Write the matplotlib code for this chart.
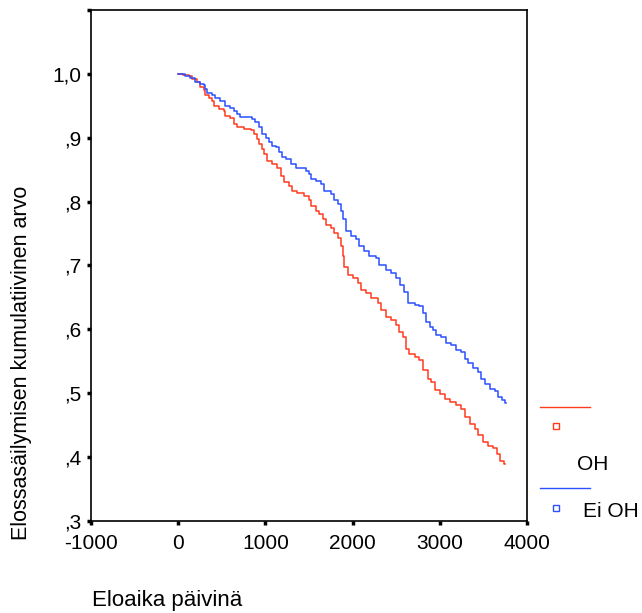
#!/usr/bin/env python3

import matplotlib
matplotlib.use("Agg")
import matplotlib.pyplot as plt
from matplotlib.lines import Line2D

plt.rcParams['font.family'] = ['Liberation Sans', 'DejaVu Sans']

# Kaplan-Meier curves (days, cumulative survival)
oh_days = [0, 61, 119, 158, 215, 253, 291, 311, 349, 388, 407, 464, 522, 541,
           599, 637, 676, 752, 830, 868, 907, 925, 964, 983, 1022, 1080, 1137,
           1175, 1213, 1271, 1310, 1368, 1444, 1501, 1521, 1578, 1616, 1656,
           1694, 1751, 1789, 1828, 1866, 1886, 1904, 1944, 2001, 2059, 2097,
           2154, 2212, 2289, 2327, 2385, 2442, 2500, 2538, 2577, 2615, 2653,
           2711, 2768, 2808, 2865, 2903, 2941, 2999, 3057, 3114, 3191, 3249,
           3287, 3345, 3402, 3441, 3499, 3557, 3614, 3652, 3690, 3736, 3745]
oh_surv = [1.0, 0.998, 0.996, 0.991, 0.987, 0.979, 0.975, 0.966, 0.962, 0.958,
           0.949, 0.945, 0.942, 0.934, 0.930, 0.921, 0.916, 0.913, 0.912, 0.906,
           0.898, 0.890, 0.882, 0.874, 0.864, 0.858, 0.853, 0.840, 0.831, 0.824,
           0.816, 0.814, 0.809, 0.803, 0.793, 0.785, 0.780, 0.772, 0.764, 0.759,
           0.751, 0.743, 0.730, 0.714, 0.698, 0.685, 0.680, 0.672, 0.662, 0.657,
           0.649, 0.641, 0.630, 0.620, 0.615, 0.607, 0.596, 0.588, 0.570, 0.562,
           0.557, 0.552, 0.536, 0.523, 0.518, 0.505, 0.499, 0.491, 0.486, 0.481,
           0.476, 0.463, 0.452, 0.444, 0.434, 0.423, 0.418, 0.415, 0.405, 0.394,
           0.389, 0.389]

ei_oh_days = [0, 81, 138, 196, 253, 291, 311, 331, 388, 426, 484, 541, 599, 637,
              676, 714, 791, 849, 887, 925, 964, 1002, 1040, 1080, 1118, 1156,
              1195, 1233, 1290, 1348, 1406, 1463, 1501, 1521, 1578, 1636, 1674,
              1751, 1789, 1828, 1866, 1886, 1924, 1982, 2039, 2077, 2135, 2192,
              2270, 2308, 2385, 2442, 2500, 2550, 2596, 2635, 2711, 2768, 2808,
              2846, 2884, 2923, 2961, 3018, 3076, 3134, 3191, 3249, 3287, 3326,
              3384, 3441, 3479, 3518, 3575, 3633, 3671, 3710, 3748, 3755]
ei_oh_surv = [1.0, 0.997, 0.994, 0.987, 0.984, 0.982, 0.976, 0.970, 0.967, 0.962,
              0.958, 0.949, 0.947, 0.942, 0.937, 0.933, 0.932, 0.929, 0.924, 0.916,
              0.906, 0.900, 0.893, 0.887, 0.885, 0.877, 0.869, 0.867, 0.858, 0.853,
              0.852, 0.848, 0.843, 0.836, 0.832, 0.827, 0.816, 0.811, 0.803, 0.796,
              0.785, 0.772, 0.754, 0.746, 0.741, 0.730, 0.722, 0.714, 0.712, 0.701,
              0.693, 0.688, 0.680, 0.670, 0.659, 0.641, 0.638, 0.636, 0.625, 0.612,
              0.604, 0.599, 0.591, 0.588, 0.578, 0.575, 0.567, 0.565, 0.554, 0.547,
              0.539, 0.533, 0.523, 0.515, 0.507, 0.504, 0.494, 0.489, 0.484, 0.484]

x_ticks = [-1000, 0, 1000, 2000, 3000, 4000]
y_ticks = [0.3, 0.4, 0.5, 0.6, 0.7, 0.8, 0.9, 1.0, 1.1]
y_tick_labels = [',3', ',4', ',5', ',6', ',7', ',8', ',9', '1,0', '']

red = '#ff3a1e'
blue = '#2a50ff'

fig = plt.figure(figsize=(6.42, 6.13), dpi=100)
ax = fig.add_axes([0.1417, 0.150, 0.679, 0.834])

ax.plot(oh_days, oh_surv, drawstyle='steps-post', color=red, lw=1.1)
ax.plot(ei_oh_days, ei_oh_surv, drawstyle='steps-post', color=blue, lw=1.1)

ax.set_xlim(-1000, 4000)
ax.set_ylim(0.3, 1.1)
ax.set_xticks(x_ticks)
ax.set_xticklabels([str(t) for t in x_ticks])
ax.set_yticks(y_ticks)
ax.set_yticklabels(y_tick_labels)
ax.tick_params(direction='out', length=3, width=2.5, labelsize=15)
ax.tick_params(axis='x', pad=6)
ax.tick_params(axis='y', pad=4)

for s in ax.spines.values():
    s.set_linewidth(1.2)

fig.text(0.033, 0.408, 'Elossasäilymisen kumulatiivinen arvo', rotation=90,
         ha='center', va='center', fontsize=15.5)
fig.text(0.143, 0.021, 'Eloaika päivinä', ha='left', va='center', fontsize=16)

# SPSS-style legend outside the plot
fig.add_artist(Line2D([0.841, 0.919], [0.336, 0.336], color=red, lw=1.0))
fig.add_artist(Line2D([0.866], [0.305], marker='s', ms=4, mfc='none', mec=red, mew=1.0))
fig.text(0.899, 0.243, 'OH', ha='left', va='center', fontsize=15)
fig.add_artist(Line2D([0.841, 0.919], [0.204, 0.204], color=blue, lw=1.0))
fig.add_artist(Line2D([0.866], [0.171], marker='s', ms=4, mfc='none', mec=blue, mew=1.0))
fig.text(0.908, 0.166, 'Ei OH', ha='left', va='center', fontsize=15)

fig.savefig('out.png', dpi=100)
